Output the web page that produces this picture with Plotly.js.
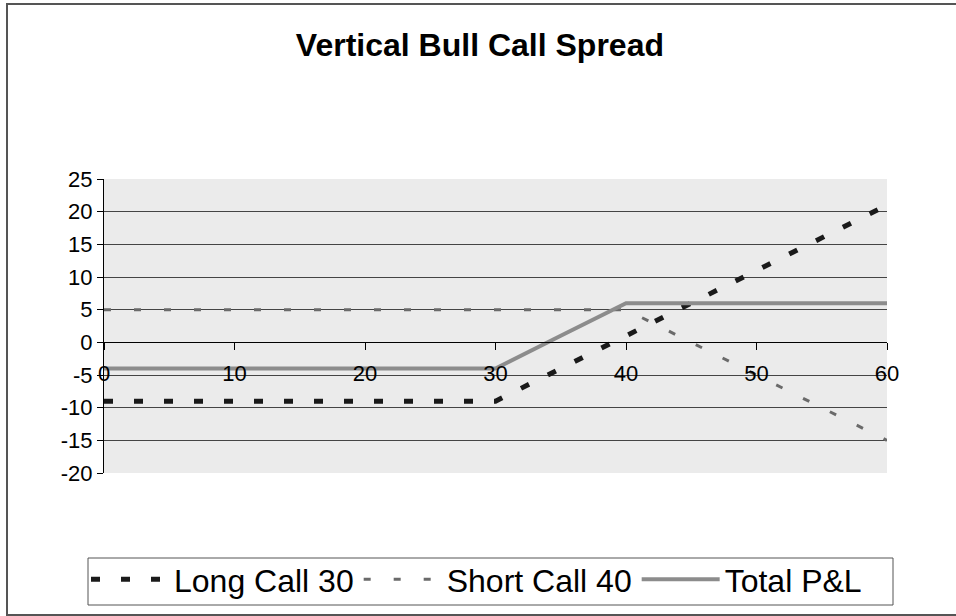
<!DOCTYPE html>
<html>
<head>
<meta charset="utf-8">
<script src="https://cdn.plot.ly/plotly-3.0.1.min.js"></script>
<style>html,body{margin:0;padding:0;background:#fff}#chart{width:956px;height:616px}</style>
</head>
<body>
<div id="chart"></div>
<script>
// Underlying price at expiry
const prices = [0, 5, 10, 15, 20, 25, 30, 35, 40, 45, 50, 55, 60];
// P&L of each leg
const longCall30 = [-9, -9, -9, -9, -9, -9, -9, -4, 1, 6, 11, 16, 21];
const shortCall40 = [5, 5, 5, 5, 5, 5, 5, 5, 5, 0, -5, -10, -15];
const totalPL = [-4, -4, -4, -4, -4, -4, -4, 1, 6, 6, 6, 6, 6];
const seriesNames = ['Long Call 30', 'Short Call 40', 'Total P&L'];
const xTicks = [0, 10, 20, 30, 40, 50, 60];
const yTicks = [-20, -15, -10, -5, 0, 5, 10, 15, 20, 25];

const FONT = 'Liberation Sans, Arial, sans-serif';

const traces = [
  {x: prices, y: longCall30, name: seriesNames[0], mode: 'lines',
   line: {color: '#1a1a1a', width: 5, dash: '9px,21px'}},
  {x: prices, y: shortCall40, name: seriesNames[1], mode: 'lines',
   line: {color: '#6a6a6a', width: 3, dash: '7px,23px'}},
  {x: prices, y: totalPL, name: seriesNames[2], mode: 'lines',
   line: {color: '#8c8c8c', width: 4}}
];

const PW = 783, PH = 294; // plot area size in px
const layout = {
  width: 956, height: 616,
  margin: {l: 104, r: 69, t: 179, b: 143},
  paper_bgcolor: '#ffffff',
  plot_bgcolor: '#ebebeb',
  font: {family: FONT, color: '#000'},
  title: {text: 'Vertical Bull Call Spread', font: {family: FONT, size: 32, color: '#000', weight: 'bold'},
          xref: 'container', x: 0.502, xanchor: 'center', yref: 'container', y: 1 - 45/616, yanchor: 'middle'},
  showlegend: true,
  legend: {orientation: 'h', xref: 'container', yref: 'container', x: 86/956, xanchor: 'left',
           y: 1 - 552/616, yanchor: 'top', bgcolor: 'rgba(0,0,0,0)', borderwidth: 0,
           font: {family: FONT, size: 32, color: '#000'}, itemwidth: 78},
  xaxis: {range: [0, 60], tickvals: xTicks, ticktext: xTicks.map(String), anchor: 'free', position: 20/45,
          showline: true, linecolor: '#000', linewidth: 1, ticks: 'outside', ticklen: 7, tickcolor: '#000',
          ticklabelstandoff: 4,
          showgrid: false, zeroline: false, tickfont: {family: FONT, size: 22, color: '#000'}},
  yaxis: {range: [-20, 25], tickvals: yTicks, ticktext: yTicks.map(String), showline: true, linecolor: '#000',
          linewidth: 1, ticks: 'outside', ticklen: 6, tickcolor: '#000', showgrid: true, gridcolor: '#444',
          gridwidth: 1, zeroline: false, tickfont: {family: FONT, size: 22, color: '#000'}},
  shapes: [
    {type: 'rect', xref: 'paper', yref: 'paper', x0: (7-104)/PW, x1: 1.2, y0: (473-615)/PH, y1: (473-4)/PH,
     line: {color: '#555', width: 2}, fillcolor: 'rgba(0,0,0,0)', layer: 'below'},
    {type: 'rect', xref: 'paper', yref: 'paper', x0: (88-104)/PW, x1: (893-104)/PW, y0: (473-605)/PH, y1: (473-558)/PH,
     line: {color: '#555', width: 1}, fillcolor: 'rgba(0,0,0,0)', layer: 'below'}
  ]
};

Plotly.newPlot('chart', traces, layout, {displayModeBar: false, staticPlot: true});
</script>
</body>
</html>
